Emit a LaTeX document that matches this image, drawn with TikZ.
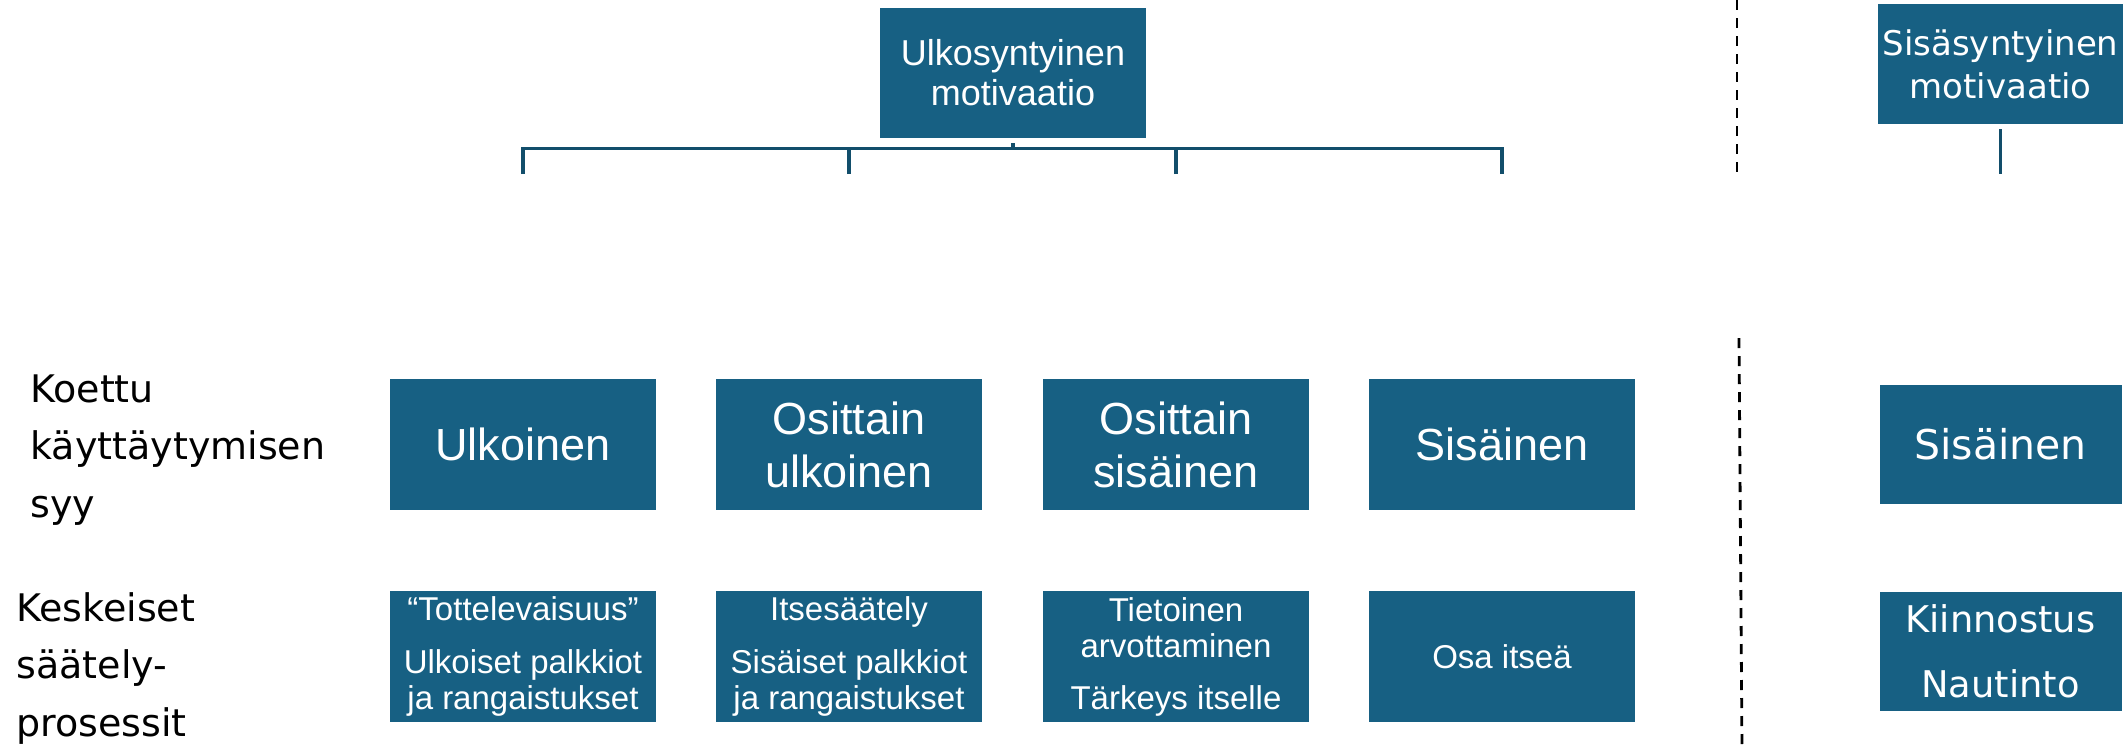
\documentclass[tikz,border=0pt]{standalone}
\usepackage{fontspec}
\setmainfont{DejaVu Sans}
\newfontfamily\narrowf{Liberation Sans}
\newfontfamily\regf{DejaVu Sans}
\definecolor{boxblue}{HTML}{176083}
\definecolor{linkcol}{HTML}{124E6B}
\begin{document}
\begin{tikzpicture}[x=0.5pt,y=-0.5pt,
  box/.style={fill=boxblue,text=white,inner sep=0pt,align=center,
              minimum width=133pt,minimum height=65.5pt},
  rtwo/.style={font=\narrowf\fontsize{22.5}{26.5}\selectfont},
  rthree/.style={font=\narrowf\fontsize{16.5}{18}\selectfont},
  rowlabel/.style={inner sep=0pt,align=left,anchor=north west,
              font=\regf\fontsize{19}{28.75}\selectfont},
  conn/.style={draw=linkcol,line width=1.9pt},
  divider/.style={draw=black,line width=1.4pt,dash pattern=on 5pt off 4pt}]
\useasboundingbox (0,0) rectangle (2124,751);

% top boxes
\node[box,minimum height=65pt,font=\narrowf\fontsize{18}{20}\selectfont] (ext) at (1013,73) {Ulkosyntyinen\\motivaatio};
\node[box,minimum width=122.5pt,minimum height=60pt,font=\regf\fontsize{17}{21.5}\selectfont] (int) at (2000.5,64) {Sisäsyntyinen\\motivaatio};

% row 2
\node[box,rtwo] (c1) at (523,444.5) {Ulkoinen};
\node[box,rtwo] (c2) at (849,444.5) {Osittain\\ulkoinen};
\node[box,rtwo] (c3) at (1176,444.5) {Osittain\\sisäinen};
\node[box,rtwo] (c4) at (1502,444.5) {Sisäinen};
\node[box,minimum width=121pt,minimum height=59.5pt,font=\regf\fontsize{20.5}{24}\selectfont] (c5) at (2000.5,444.5) {Sisäinen};

% row 3
\node[box,rthree] (p1) at (523,656.5) {“Tottelevaisuus”\\[8.5pt]Ulkoiset palkkiot\\ja rangaistukset};
\node[box,rthree] (p2) at (849,656.5) {Itsesäätely\\[8.5pt]Sisäiset palkkiot\\ja rangaistukset};
\node[box,rthree] (p3) at (1176,656.5) {Tietoinen\\arvottaminen\\[8pt]Tärkeys itselle};
\node[box,rthree] (p4) at (1502,656.5) {Osa itseä};
\node[box,minimum width=121pt,minimum height=59.5pt,font=\regf\fontsize{18.4}{32.5}\selectfont] (p5) at (2000.5,651.5) {Kiinnostus\\Nautinto};

% row labels
\node[rowlabel] (l1) at (30,374) {Koettu\\käyttäytymisen\\syy};
\node[rowlabel] (l2) at (16,592) {Keskeiset\\säätely-\\prosessit};

% bracket
\path (ext.south) ++(0,10) coordinate (bar);
\coordinate (e1) at (523,174);
\coordinate (e2) at (849,174);
\coordinate (e3) at (1176,174);
\coordinate (e4) at (1502,174);
\coordinate (e5) at (2000.5,174);
\draw[conn,line join=miter] (e1) -- (e1 |- bar) -- (e4 |- bar) -- (e4);
\draw[conn] (e2) -- (e2 |- bar);
\draw[conn] (e3) -- (e3 |- bar);
\draw[conn,shorten <=2.5pt] (ext.south) -- (bar);
\draw[conn,shorten <=2.5pt] (int.south) -- (e5);

% divider
\coordinate (d1) at (1737,0);
\coordinate (d2) at (1737,173);
\coordinate (d3) at (1739,338);
\coordinate (d4) at (1742,751);
\draw[divider] (d1) -- (d2);
\draw[divider] (d3) -- (d4);
\end{tikzpicture}
\end{document}
